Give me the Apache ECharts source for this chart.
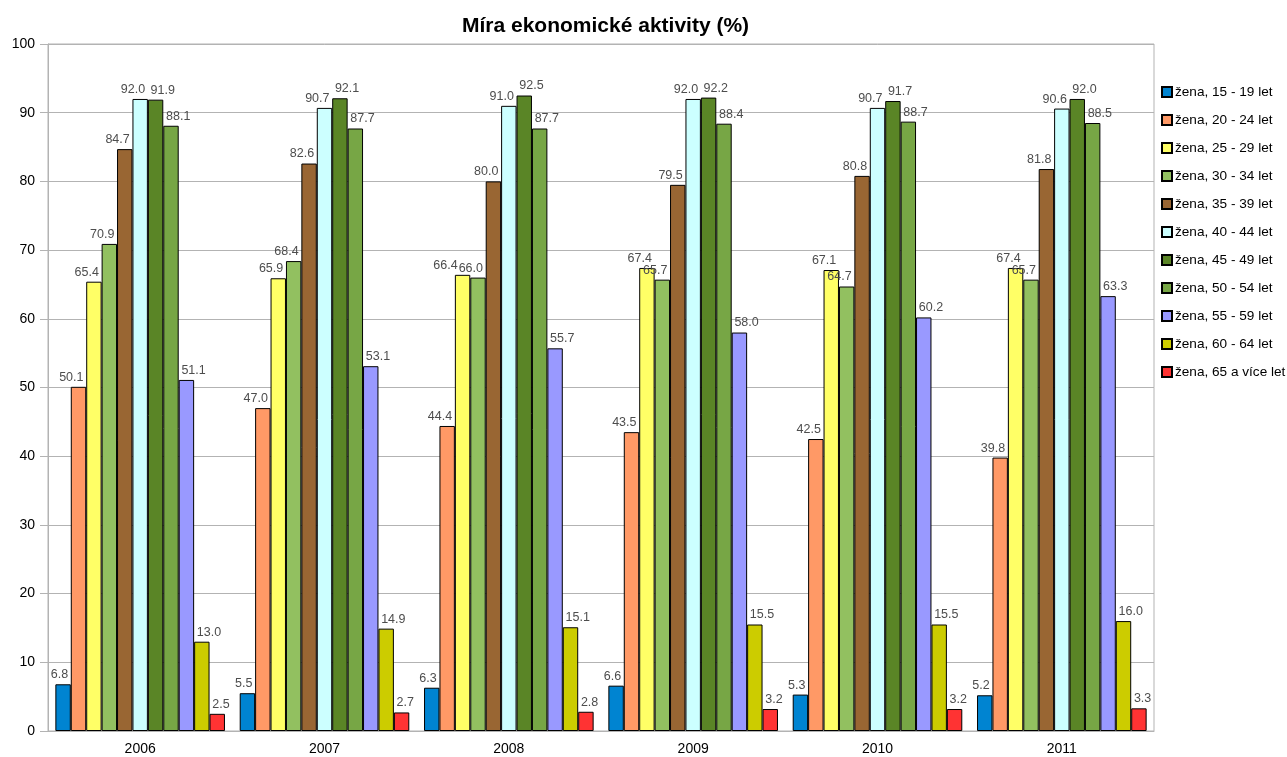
<!DOCTYPE html>
<html><head><meta charset="utf-8">
<script src="https://cdn.jsdelivr.net/npm/echarts@6/dist/echarts.min.js"></script>
<style>html,body{margin:0;padding:0;background:#fff}#c{width:1287px;height:757px}</style>
</head><body><div id="c"></div>
<script>
const years = ['2006','2007','2008','2009','2010','2011'];
const seriesNames = ['žena, 15 - 19 let','žena, 20 - 24 let','žena, 25 - 29 let','žena, 30 - 34 let','žena, 35 - 39 let','žena, 40 - 44 let','žena, 45 - 49 let','žena, 50 - 54 let','žena, 55 - 59 let','žena, 60 - 64 let','žena, 65 a více let'];
const v15_19 = [6.8, 5.5, 6.3, 6.6, 5.3, 5.2];
const v20_24 = [50.1, 47.0, 44.4, 43.5, 42.5, 39.8];
const v25_29 = [65.4, 65.9, 66.4, 67.4, 67.1, 67.4];
const v30_34 = [70.9, 68.4, 66.0, 65.7, 64.7, 65.7];
const v35_39 = [84.7, 82.6, 80.0, 79.5, 80.8, 81.8];
const v40_44 = [92.0, 90.7, 91.0, 92.0, 90.7, 90.6];
const v45_49 = [91.9, 92.1, 92.5, 92.2, 91.7, 92.0];
const v50_54 = [88.1, 87.7, 87.7, 88.4, 88.7, 88.5];
const v55_59 = [51.1, 53.1, 55.7, 58.0, 60.2, 63.3];
const v60_64 = [13.0, 14.9, 15.1, 15.5, 15.5, 16.0];
const v65plus = [2.5, 2.7, 2.8, 3.2, 3.2, 3.3];
const yTicks = [0,10,20,30,40,50,60,70,80,90,100];

const allValues = [v15_19, v20_24, v25_29, v30_34, v35_39, v40_44, v45_49, v50_54, v55_59, v60_64, v65plus];
const colors = ['#0084d1','#ff9966','#ffff66','#92c060','#996633','#ccffff','#5a8526','#77a645','#9999ff','#cccc00','#ff3333'];
const font = 'Liberation Sans, Arial, sans-serif';
// extra horizontal nudges for labels that collide in the reference (series index, data index)
const labelNudge = {'2,2': -10};

const chart = echarts.init(document.getElementById('c'));
chart.setOption({
  animation: false,
  backgroundColor: '#fff',
  title: {
    text: 'Míra ekonomické aktivity (%)',
    left: 457, top: 11,
    textStyle: {fontFamily: font, fontSize: 21, fontWeight: 'bold', color: '#000'}
  },
  legend: {
    orient: 'vertical', left: 1156, top: 80,
    itemWidth: 10, itemHeight: 10, itemGap: 14,
    icon: 'rect',
    textStyle: {fontFamily: font, fontSize: 13.6, color: '#000', padding: [0,0,0,-2]},
    data: seriesNames
  },
  grid: {left: 48, right: 133, top: 44, bottom: 26, show: true, borderColor: '#b3b3b3', borderWidth: 1},
  xAxis: {
    type: 'category', data: years,
    axisLine: {lineStyle: {color: '#b3b3b3'}},
    axisTick: {alignWithLabel: true, length: 6, lineStyle: {color: '#b3b3b3'}},
    axisLabel: {fontFamily: font, fontSize: 14, color: '#000', margin: 11}
  },
  yAxis: {
    type: 'value', min: yTicks[0], max: yTicks[yTicks.length-1], interval: 10,
    axisLine: {show: true, lineStyle: {color: '#b3b3b3'}},
    axisTick: {show: true, length: 8, lineStyle: {color: '#b3b3b3'}},
    splitLine: {lineStyle: {color: '#b3b3b3'}},
    axisLabel: {fontFamily: font, fontSize: 14, color: '#000', margin: 13}
  },
  series: seriesNames.map((n, i) => {
    const baseOff = i < 6 ? 5 : -5;
    return {
      name: n, type: 'bar',
      data: allValues[i].map((v, j) => {
        const k = i + ',' + j;
        return k in labelNudge ? {value: v, label: {offset: [baseOff + labelNudge[k], 0]}} : v;
      }),
      barGap: '0%', barCategoryGap: '8%',
      itemStyle: {color: colors[i], borderColor: '#000', borderWidth: 1},
      label: {show: true, position: 'top', distance: 3, fontFamily: font, fontSize: 12.5, color: '#4d4d4d',
        align: i < 6 ? 'right' : 'left', offset: [baseOff, 0],
        formatter: p => p.value.toFixed(1)}
    };
  })
});
</script></body></html>
